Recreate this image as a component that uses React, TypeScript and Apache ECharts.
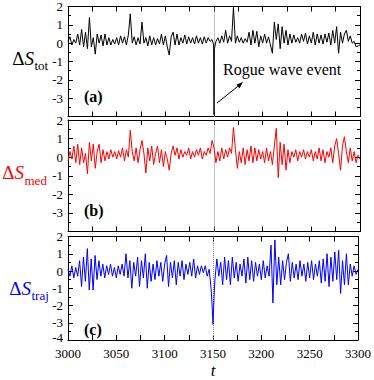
import React, { useEffect, useRef } from "react";
import * as echarts from "echarts";

// time stamps (every 2 units from 3000 to 3300)
const T_START = 3000;
const T_STEP = 2;

const totValues = [
  0.1, 0.35, -0.1, 0.2, 0.0, 0.5, -0.1, 0.75, -0.2, 0.6,
  -0.3, 1.4, -0.2, 0.3, -0.6, 0.5, 0.0, 0.45, -0.15, 0.5,
  -0.1, 0.3, -0.1, 0.2, -0.05, 0.3, -0.1, 0.4, 0.0, 0.35,
  -0.1, 0.45, 1.6, 0.0, 0.35, -0.1, 0.3, -0.05, 1.15, 0.0,
  0.3, -0.15, 0.4, -0.1, 0.3, -0.1, 0.25, -0.05, 0.5, -0.1,
  0.4, -0.2, -0.65, 0.35, 0.6, -0.1, 0.5, -0.1, 0.3, 0.0,
  0.45, -0.05, 0.35, 0.0, 0.3, -0.05, 0.4, 0.0, 0.3, -0.05,
  0.35, 0.0, 0.3, 0.1, 0.2, -3.9, 0.1, 0.3, 0.0, 0.4,
  0.05, 0.7, 0.0, 0.4, 0.1, 1.95, 0.0, 0.4, 0.05, 0.3,
  0.0, 0.25, 0.05, 0.6, -0.1, 0.7, 0.0, 0.65, -0.2, 0.4,
  0.0, 0.5, 0.0, 0.35, -0.1, -0.55, 1.15, 0.2, 1.05, -0.3,
  0.9, 0.0, 0.7, -0.1, 0.5, 0.0, 0.45, 0.05, 0.3, 0.0,
  0.5, 0.1, 0.55, -0.05, 0.4, 0.0, 0.6, -0.1, 0.5, 0.0,
  0.45, -0.05, 0.5, 0.05, 0.55, -0.1, 0.7, 0.0, 0.9, -0.55,
  0.6, 0.0, 0.5, 0.7, 0.1, 0.4, 0.0, 0.1, -0.2, -0.15,
  -0.1,
];
// extra samples around the rogue-wave event (finer resolution)
const totEventTimes = [3149.6, 3150.4];
const totEventValues = [-0.1, -0.3];

const medValues = [
  -0.2, 0.3, -0.1, 0.6, -0.3, 0.7, -0.4, 0.5, -0.3, 0.2,
  -0.9, 0.8, -0.2, 0.7, -0.6, 0.3, 0.7, -0.3, 0.4, -0.2,
  0.3, -0.1, 0.4, 0.0, 0.3, -0.1, 0.35, 0.0, 0.5, -0.2,
  0.4, 0.0, 1.45, 0.3, -0.2, 0.5, -0.3, 0.4, 0.9, 0.2,
  -0.85, 0.5, -0.2, 0.6, -0.4, 0.2, 0.6, -0.3, 0.4, -0.5,
  0.3, -0.1, -0.7, 0.2, 0.6, 0.1, 0.5, -0.1, 0.4, 0.0,
  0.3, 0.1, 0.5, -0.1, 0.3, 0.0, 0.4, 0.1, 0.5, -0.1,
  0.3, 0.1, 0.5, 0.2, 0.9, 0.5, -0.3, 0.3, -0.2, 0.5,
  -0.1, 0.4, 0.0, 0.5, 0.2, 1.6, 0.4, -0.6, 0.3, -0.3,
  0.5, -0.4, 0.4, -0.2, 0.6, -0.3, 0.5, -0.2, 0.4, -0.1,
  0.3, -0.3, 0.5, -0.2, 0.3, -0.4, 0.6, 1.55, -1.1, 0.8,
  -0.4, 0.7, -0.7, 0.4, -0.3, 0.3, 0.0, 0.4, -0.2, 0.3,
  0.0, 0.4, -0.1, 0.3, 0.0, 0.4, -0.2, 0.3, -0.1, 0.5,
  -0.2, 0.4, -0.3, 0.3, 0.0, 0.5, -0.3, 0.6, 1.0, 0.2,
  -0.7, 0.6, 1.1, 0.3, -0.3, 0.5, -0.2, 0.3, -0.3, 0.1,
  -0.1,
];

const trajValues = [
  0.1, -0.3, 0.3, -0.4, 0.2, -0.3, 0.6, -0.9, 0.8, -0.6,
  1.3, -1.1, 0.7, -1.1, 0.9, -0.5, 0.6, -0.3, 0.4, -0.4,
  0.3, -0.2, 0.4, -0.3, 0.2, -0.4, 0.3, -0.2, 0.4, -0.3,
  1.0, -0.4, 0.6, -1.0, 0.5, -0.3, 0.8, -0.9, 0.6, -0.4,
  1.0, -1.0, 0.5, -0.6, 0.4, -0.5, 0.6, -0.3, 0.5, -0.6,
  0.4, 0.9, -0.9, 0.5, -0.4, 0.6, -0.8, 0.5, -0.3, 0.6,
  -0.5, 0.4, -0.2, 0.5, -0.3, 0.7, -0.4, 0.3, -0.2, 0.3,
  -0.1, 0.3, -0.3, 0.1, -1.0, -3.1, -0.5, 0.7, -0.3, 0.5,
  -0.8, 0.8, -0.5, 0.6, -0.8, 0.8, -0.4, 0.5, -0.6, 0.4,
  -0.3, 0.7, -0.7, 0.8, -0.5, 0.6, -0.6, 0.5, -0.3, 0.4,
  -0.5, 0.6, -0.4, 0.3, -0.3, 1.5, -1.85, 1.8, -0.8, 0.8,
  -0.8, 0.6, -0.5, 0.5, 1.0, -0.6, 0.5, -0.4, 0.4, -0.5,
  0.6, -0.3, 0.4, -0.6, 0.5, -0.4, 0.6, -0.5, 0.4, -0.3,
  0.6, -0.7, 0.7, -0.6, 1.0, -0.9, 0.8, -0.6, 1.1, -0.5,
  1.2, -1.3, 0.6, -0.8, 1.0, -0.8, 0.4, -0.3, 0.3, -0.2,
  0.1,
];
const trajEventTimes = [3149, 3151];
const trajEventValues = [-1.9, -1.6];

const xTickLabels = ["3000", "3050", "3100", "3150", "3200", "3250", "3300"];
const eventTime = 3150;
const panelLetters = ["(a)", "(b)", "(c)"];
const panelColors = ["#000000", "#ff0000", "#0000ff"];
const panelSubs = ["tot", "med", "traj"];

const FONT = "Liberation Serif";

function buildSeries(vals: number[], extraT: number[] = [], extraV: number[] = []) {
  const pts: [number, number][] = vals.map((v, i) => [T_START + T_STEP * i, v]);
  extraT.forEach((t, k) => pts.push([t, extraV[k]]));
  pts.sort((a, b) => a[0] - b[0]);
  return pts;
}

export default function App() {
  const ref = useRef<HTMLDivElement>(null);

  useEffect(() => {
    if (!ref.current) return;
    const chart = echarts.init(ref.current, undefined, { renderer: "svg" });

    const grids = [
      { left: 68, right: 14, top: 5.5, height: 111 },
      { left: 68, right: 14, top: 120, height: 111.5 },
      { left: 68, right: 14, top: 236.5, height: 111.5 },
    ];
    const seriesData = [
      buildSeries(totValues, totEventTimes, totEventValues),
      buildSeries(medValues),
      buildSeries(trajValues, trajEventTimes, trajEventValues),
    ];

    const tickCommon = {
      axisLine: { show: true, onZero: false, lineStyle: { color: "#000", width: 1 } },
      splitLine: { show: false },
    };

    const xAxes: any[] = [];
    const yAxes: any[] = [];
    grids.forEach((_, gi) => {
      const last = gi === 2;
      xAxes.push({
        ...tickCommon,
        type: "value",
        gridIndex: gi,
        position: "bottom",
        min: 3000,
        max: 3300,
        interval: 50,
        axisTick: { show: true, inside: true, length: 5, lineStyle: { color: "#000" } },
        minorTick: { show: true, splitNumber: 2, length: 5, lineStyle: { color: "#000" } },
        axisLabel: {
          show: last,
          color: "#000",
          fontFamily: FONT,
          fontSize: 13,
          margin: 7,
          formatter: (v: number) => xTickLabels.find((s) => Number(s) === v) ?? "",
        },
        name: last ? "t" : "",
        nameLocation: "middle",
        nameGap: 22,
        nameTextStyle: { fontFamily: FONT, fontStyle: "italic", fontSize: 17, color: "#000" },
      });
      xAxes.push({
        ...tickCommon,
        type: "value",
        gridIndex: gi,
        position: "top",
        min: 3000,
        max: 3300,
        interval: 50,
        axisTick: { show: true, inside: true, length: 5, lineStyle: { color: "#000" } },
        minorTick: { show: true, splitNumber: 2, length: 5, lineStyle: { color: "#000" } },
        axisLabel: { show: false },
      });
      yAxes.push({
        ...tickCommon,
        type: "value",
        gridIndex: gi,
        position: "left",
        min: -4,
        max: 2,
        interval: 1,
        axisTick: { show: true, inside: true, length: 5, lineStyle: { color: "#000" } },
        minorTick: { show: true, splitNumber: 2, length: 3, lineStyle: { color: "#000" } },
        axisLabel: {
          color: "#000",
          fontFamily: FONT,
          fontSize: 13,
          margin: 5,
          formatter: (v: number) =>
            v === -4 ? (last ? "{low|-4}" : "") : String(v),
          rich: {
            low: { fontFamily: FONT, fontSize: 13, color: "#000", padding: [0, 0, 5, 0] },
          },
        },
      });
      yAxes.push({
        ...tickCommon,
        type: "value",
        gridIndex: gi,
        position: "right",
        min: -4,
        max: 2,
        interval: 1,
        axisTick: { show: true, inside: true, length: 5, lineStyle: { color: "#000" } },
        minorTick: { show: true, splitNumber: 2, length: 3, lineStyle: { color: "#000" } },
        axisLabel: { show: false },
      });
    });

    const series = seriesData.map((data, gi) => ({
      type: "line",
      xAxisIndex: gi * 2,
      yAxisIndex: gi * 2,
      data,
      showSymbol: false,
      lineStyle: { color: panelColors[gi], width: 1 },
      z: 3,
      markLine: {
        silent: true,
        symbol: ["none", "none"],
        label: { show: false },
        lineStyle: { color: "#888", type: "dotted", width: 1 },
        data: [{ xAxis: eventTime }],
        z: 2,
      },
    }));

    const yLabelPos = [
      { x: 34, y: 58 },
      { x: 24, y: 172.5 },
      { x: 31, y: 288 },
    ];
    const letterPos = [96, 210, 329];

    const graphics: any[] = [];
    yLabelPos.forEach((p, gi) => {
      graphics.push({
        type: "text",
        x: p.x,
        y: p.y,
        style: {
          text: "{d|Δ}{s|S}",
          rich: {
            d: { fontFamily: FONT, fontSize: 19, fill: panelColors[gi] },
            s: { fontFamily: FONT, fontSize: 19, fontStyle: "italic", fill: panelColors[gi] },
          },
          textAlign: "right",
          textVerticalAlign: "middle",
        },
      });
      graphics.push({
        type: "text",
        x: p.x + 0.5,
        y: p.y + 7.5,
        style: {
          text: panelSubs[gi],
          fontFamily: FONT,
          fontSize: 13,
          fill: panelColors[gi],
          textAlign: "left",
          textVerticalAlign: "middle",
        },
      });
      graphics.push({
        type: "text",
        x: 84,
        y: letterPos[gi],
        style: {
          text: panelLetters[gi],
          fontFamily: FONT,
          fontSize: 16,
          fontWeight: "bold",
          fill: "#000",
          textAlign: "left",
          textVerticalAlign: "middle",
        },
      });
    });
    graphics.push({
      type: "text",
      x: 223,
      y: 69,
      style: {
        text: "Rogue wave event",
        fontFamily: FONT,
        fontSize: 16,
        fill: "#000",
        textAlign: "left",
        textVerticalAlign: "middle",
      },
    });
    graphics.push({
      type: "line",
      shape: { x1: 217, y1: 103, x2: 242, y2: 83 },
      style: { stroke: "#000", lineWidth: 1 },
    });
    graphics.push({
      type: "polygon",
      shape: { points: [[243, 82], [236.5, 84.5], [239.5, 88.5]] },
      style: { fill: "#000" },
    });

    chart.setOption({
      animation: false,
      backgroundColor: "#fff",
      grid: grids,
      xAxis: xAxes,
      yAxis: yAxes,
      series,
      graphic: graphics,
    });

    return () => chart.dispose();
  }, []);

  return (
    <div
      ref={ref}
      style={{ position: "absolute", left: 0, top: 0, width: 374, height: 380 }}
    />
  );
}
